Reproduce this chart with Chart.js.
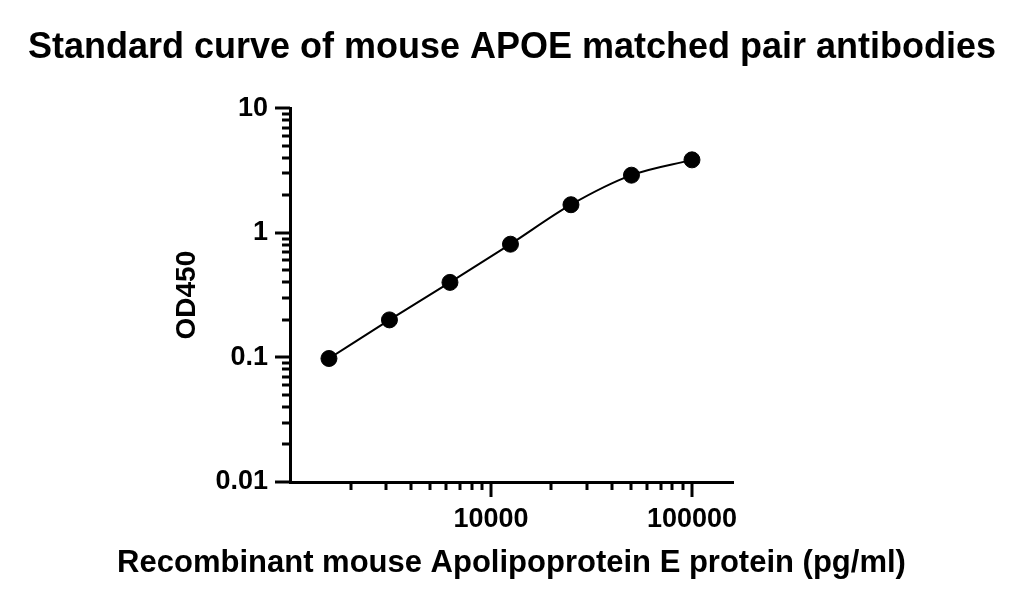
<!DOCTYPE html>
<html>
<head>
<meta charset="utf-8">
<script src="https://cdn.jsdelivr.net/npm/chart.js@4.4.0/dist/chart.umd.min.js"></script>
<style>
  html, body { margin: 0; padding: 0; background: #fff; }
  #wrap { width: 1024px; height: 607px; }
</style>
</head>
<body>
<div id="wrap"><canvas id="chart" width="1024" height="607"></canvas></div>
<script>
// protein concentration (pg/ml) and OD450 readings
const concentrations = [1562.5, 3125, 6250, 12500, 25000, 50000, 100000];
const od450 = [0.098, 0.2, 0.4, 0.81, 1.68, 2.9, 3.85];

const xMajorTicks = [10000, 100000];
const xMinorTicks = [2000, 3000, 4000, 5000, 6000, 7000, 8000, 9000,
  20000, 30000, 40000, 50000, 60000, 70000, 80000, 90000];
const yMajorTicks = [0.01, 0.1, 1, 10];
const yMinorTicks = [0.02, 0.03, 0.04, 0.05, 0.06, 0.07, 0.08, 0.09,
  0.2, 0.3, 0.4, 0.5, 0.6, 0.7, 0.8, 0.9,
  2, 3, 4, 5, 6, 7, 8, 9];

const xTitle = 'Recombinant mouse Apolipoprotein E protein (pg/ml)';

const FONT = "'Liberation Sans', Arial, sans-serif";

function setTicks(majors, minors) {
  return (scale) => {
    scale.ticks = majors.concat(minors)
      .sort((a, b) => a - b)
      .map(v => ({ value: v, major: majors.includes(v) }));
  };
}

// tick marks (major longer than minor) and the x axis title,
// which is wider than the axis so Chart.js would squeeze it
const axisExtras = {
  id: 'axisExtras',
  afterDraw(chart) {
    const ctx = chart.ctx;
    ctx.save();
    ctx.strokeStyle = '#000';
    ctx.lineWidth = 3;
    const xs = chart.scales.x;
    xs.ticks.forEach(t => {
      const px = Math.round(xs.getPixelForValue(t.value));
      const len = t.major ? 15 : 8;
      ctx.beginPath();
      ctx.moveTo(px, xs.top);
      ctx.lineTo(px, xs.top + len);
      ctx.stroke();
    });
    const ys = chart.scales.y;
    ys.ticks.forEach(t => {
      const py = Math.round(ys.getPixelForValue(t.value));
      const len = t.major ? 15 : 8;
      ctx.beginPath();
      ctx.moveTo(ys.right - len, py);
      ctx.lineTo(ys.right, py);
      ctx.stroke();
    });
    ctx.fillStyle = '#000';
    ctx.font = 'bold 31px ' + FONT;
    ctx.textAlign = 'center';
    ctx.textBaseline = 'middle';
    ctx.fillText(xTitle, (xs.left + xs.right) / 2, 563);
    ctx.restore();
  }
};

const points = concentrations.map((c, i) => ({ x: c, y: od450[i] }));

new Chart(document.getElementById('chart'), {
  type: 'scatter',
  data: {
    datasets: [{
      label: 'fit',
      data: points,
      showLine: true,
      borderColor: '#000',
      borderWidth: 2,
      pointRadius: 0,
      cubicInterpolationMode: 'monotone',
    }, {
      label: 'OD450',
      data: points,
      backgroundColor: '#000',
      borderColor: '#000',
      pointRadius: 8,
      pointHoverRadius: 8,
    }],
  },
  options: {
    responsive: false,
    animation: false,
    layout: { padding: 0 },
    plugins: {
      legend: { display: false },
      tooltip: { enabled: false },
      title: {
        display: true,
        text: 'Standard curve of mouse APOE matched pair antibodies',
        color: '#000',
        font: { family: FONT, size: 36, weight: 'bold' },
        padding: { top: 26, bottom: 39 },
      },
    },
    scales: {
      x: {
        type: 'logarithmic',
        min: 1000,
        max: 160000,
        afterBuildTicks: setTicks(xMajorTicks, xMinorTicks),
        afterFit: (s) => { s.height = 125; },
        grid: { display: false, tickLength: 15 },
        border: { display: true, color: '#000', width: 3 },
        ticks: {
          autoSkip: false,
          maxRotation: 0,
          padding: 6,
          color: '#000',
          font: { family: FONT, size: 27, weight: 'bold' },
          callback: (v) => xMajorTicks.includes(v) ? String(v) : '',
        },
      },
      y: {
        type: 'logarithmic',
        min: 0.01,
        max: 10,
        afterBuildTicks: setTicks(yMajorTicks, yMinorTicks),
        afterFit: (s) => { s.width = 290; },
        grid: { display: false, tickLength: 15 },
        border: { display: true, color: '#000', width: 3 },
        ticks: {
          autoSkip: false,
          padding: 7,
          color: '#000',
          font: { family: FONT, size: 27, weight: 'bold' },
          callback: (v) => yMajorTicks.includes(v) ? String(v) : '',
        },
        title: {
          display: true,
          text: 'OD450',
          color: '#000',
          font: { family: FONT, size: 28, weight: 'bold' },
          padding: 170,
        },
      },
      // empty right-hand axis that only reserves the white space
      right: {
        position: 'right',
        afterFit: (s) => { s.width = 291; },
        grid: { display: false },
        border: { display: false },
        ticks: { display: false },
      },
    },
  },
  plugins: [axisExtras],
});
</script>
</body>
</html>
